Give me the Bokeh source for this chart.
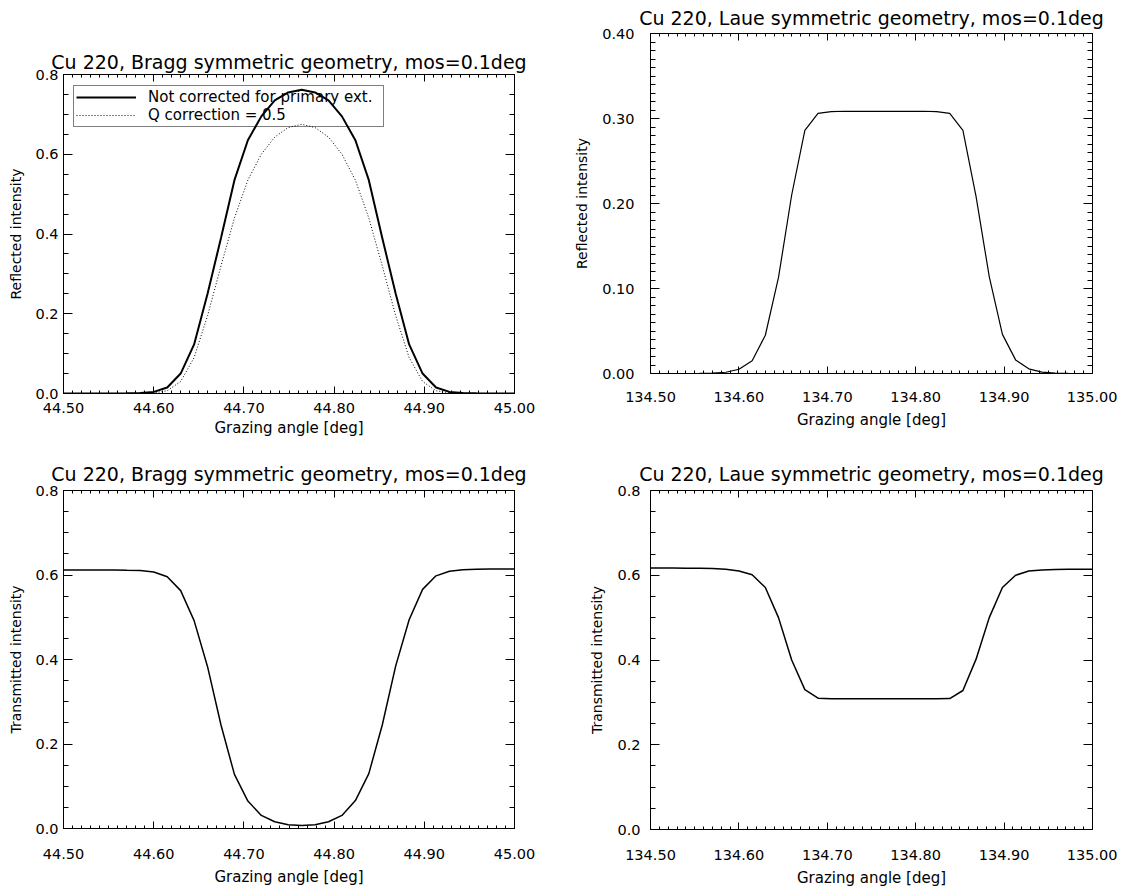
import numpy as np
from bokeh.plotting import figure
from bokeh.models import (Range1d, FixedTicker, NumeralTickFormatter, LinearAxis,
                          CustomJSTickFormatter, Legend)
from bokeh.layouts import row, column
from bokeh.embed import file_html
from bokeh.resources import INLINE

# ---------------- data ----------------
bragg_x = [44.4958, 44.5107, 44.5256, 44.5405, 44.5554, 44.5703, 44.5852, 44.6001,
           44.6150, 44.6299, 44.6448, 44.6597, 44.6746, 44.6895, 44.7044, 44.7193,
           44.7342, 44.7491, 44.7640, 44.7789, 44.7938, 44.8087, 44.8236, 44.8385,
           44.8534, 44.8683, 44.8832, 44.8981, 44.9130, 44.9279, 44.9428, 44.9577,
           44.9726, 44.9875, 45.0024]
laue_x = [134.4958, 134.5107, 134.5256, 134.5405, 134.5554, 134.5703, 134.5852, 134.6001,
          134.6150, 134.6299, 134.6448, 134.6597, 134.6746, 134.6895, 134.7044, 134.7193,
          134.7342, 134.7491, 134.7640, 134.7789, 134.7938, 134.8087, 134.8236, 134.8385,
          134.8534, 134.8683, 134.8832, 134.8981, 134.9130, 134.9279, 134.9428, 134.9577,
          134.9726, 134.9875, 135.0024]

bragg_refl = [0.0, 0.0, 0.0, 0.0, 0.0001, 0.0004, 0.0012, 0.004,
              0.015, 0.050, 0.123, 0.250, 0.390, 0.535, 0.635, 0.695,
              0.735, 0.755, 0.762, 0.755, 0.735, 0.695, 0.635, 0.535,
              0.390, 0.250, 0.123, 0.050, 0.015, 0.004, 0.0012, 0.0004,
              0.0001, 0.0, 0.0]
bragg_refl_q = [0.0, 0.0, 0.0, 0.0, 0.0, 0.0001, 0.0003, 0.0015,
                0.007, 0.030, 0.090, 0.195, 0.320, 0.440, 0.535, 0.600,
                0.643, 0.667, 0.675, 0.667, 0.643, 0.600, 0.535, 0.440,
                0.320, 0.195, 0.090, 0.030, 0.007, 0.0015, 0.0003, 0.0001,
                0.0, 0.0, 0.0]
bragg_trans = [0.612, 0.612, 0.612, 0.612, 0.6118, 0.611, 0.6105, 0.607,
               0.596, 0.563, 0.492, 0.383, 0.245, 0.128, 0.065, 0.031,
               0.016, 0.009, 0.007, 0.009, 0.016, 0.031, 0.066, 0.130,
               0.245, 0.385, 0.494, 0.566, 0.598, 0.609, 0.6125, 0.6135,
               0.614, 0.614, 0.614]
laue_refl = [0.0, 0.0, 0.0, 0.0, 0.0001, 0.0005, 0.0015, 0.005,
             0.015, 0.045, 0.113, 0.210, 0.286, 0.306, 0.308, 0.3085,
             0.3085, 0.3085, 0.3085, 0.3085, 0.3085, 0.3085, 0.308, 0.306,
             0.286, 0.208, 0.114, 0.046, 0.016, 0.0055, 0.0016, 0.0005,
             0.0001, 0.0, 0.0]
laue_trans = [0.617, 0.617, 0.617, 0.6168, 0.6165, 0.616, 0.614, 0.610,
              0.601, 0.571, 0.500, 0.400, 0.330, 0.310, 0.3085, 0.3083,
              0.3083, 0.3083, 0.3083, 0.3083, 0.3083, 0.3083, 0.3083, 0.309,
              0.328, 0.402, 0.500, 0.571, 0.600, 0.610, 0.6125, 0.6135,
              0.614, 0.614, 0.614]

bragg_xticks = [44.50, 44.60, 44.70, 44.80, 44.90, 45.00]
laue_xticks = [134.50, 134.60, 134.70, 134.80, 134.90, 135.00]
y08_ticks = [0.0, 0.2, 0.4, 0.6, 0.8]
y04_ticks = [0.00, 0.10, 0.20, 0.30, 0.40]

titles = ["Cu 220, Bragg symmetric geometry, mos=0.1deg",
          "Cu 220, Laue symmetric geometry, mos=0.1deg"]
xlabel = "Grazing angle [deg]"
legend_labels = ["Not corrected for primary ext.", "Q correction = 0.5"]

FONT = "DejaVu Sans"


def minor(ticks, step):
    n = int(round((ticks[-1] - ticks[0]) / step))
    return [round(ticks[0] + i * step, 4) for i in range(n + 1)]


def style_axis(ax, major_in, minor_in, size="14.5px", standoff=6):
    ax.major_tick_in = major_in
    ax.major_tick_out = 0
    ax.minor_tick_in = minor_in
    ax.minor_tick_out = 0
    ax.axis_line_color = "black"
    ax.major_tick_line_color = "black"
    ax.minor_tick_line_color = "black"
    ax.major_label_text_color = "black"
    ax.major_label_text_font = FONT
    ax.major_label_text_font_size = size
    ax.major_label_standoff = standoff
    ax.axis_label_text_font = FONT
    ax.axis_label_text_font_style = "normal"
    ax.axis_label_text_color = "black"


def make_fig(width, height, borders, xr, yr, xticks, yticks, ymin_step, yfmt,
             title, ylabel, x_standoff, y_standoff, title_standoff,
             xlabel_standoff, ylabel_standoff):
    p = figure(width=width, height=height, output_backend="svg", toolbar_location=None,
               x_range=Range1d(*xr), y_range=Range1d(*yr))
    p.min_border_left, p.min_border_right, p.min_border_top, p.min_border_bottom = borders
    p.outline_line_color = "black"
    p.outline_line_width = 1
    p.xgrid.grid_line_color = None
    p.ygrid.grid_line_color = None
    p.background_fill_color = "white"
    p.border_fill_color = "white"

    xt = FixedTicker(ticks=xticks, minor_ticks=minor(xticks, 0.01))
    yt = FixedTicker(ticks=yticks, minor_ticks=minor(yticks, ymin_step))

    xa = p.xaxis[0]
    xa.ticker = xt
    xa.formatter = NumeralTickFormatter(format="0.00")
    xa.axis_label = xlabel
    style_axis(xa, 7, 3, standoff=x_standoff)
    xa.axis_label_text_font_size = "15px"
    xa.axis_label_standoff = xlabel_standoff

    ya = p.yaxis[0]
    ya.ticker = yt
    ya.formatter = NumeralTickFormatter(format=yfmt)
    ya.axis_label = ylabel
    style_axis(ya, 9, 5, standoff=y_standoff)
    ya.axis_label_text_font_size = "14px"
    ya.axis_label_standoff = ylabel_standoff

    empty = CustomJSTickFormatter(code="return ''")
    top = LinearAxis(ticker=xt, formatter=empty)
    style_axis(top, 7, 3, size="0px", standoff=0)
    right = LinearAxis(ticker=yt, formatter=empty)
    style_axis(right, 9, 5, size="0px", standoff=0)
    p.add_layout(top, "above")
    p.add_layout(right, "right")

    p.title.text = title
    p.title.text_font = FONT
    p.title.text_font_size = "19px"
    p.title.text_font_style = "normal"
    p.title.text_color = "black"
    p.title.align = "center"
    p.title.standoff = title_standoff
    return p


# Top-left: Bragg reflected
tl = make_fig(570, 440, (63, 56, 74, 47), (44.5, 45.0), (0.0, 0.8), bragg_xticks, y08_ticks,
              0.05, "0.0", titles[0], "Reflected intensity", 9, 5, 3, 3, 8)
r1 = tl.line(bragg_x, bragg_refl, line_color="black", line_width=2)
r2 = tl.line(bragg_x, bragg_refl_q, line_color="black", line_width=1, line_dash="1 2")
leg = Legend(items=[(legend_labels[0], [r1]), (legend_labels[1], [r2])],
             location=(10, 266))
leg.border_line_color = "black"
leg.border_line_width = 1
leg.background_fill_alpha = 0
leg.label_text_font = FONT
leg.label_text_font_size = "15px"
leg.label_text_color = "black"
leg.glyph_width = 60
leg.glyph_height = 12
leg.label_height = 12
leg.label_width = 233
leg.label_standoff = 12
leg.padding = 2
leg.spacing = 0
leg.margin = 0
tl.add_layout(leg)

# Bottom-left: Bragg transmitted
bl = make_fig(570, 449, (63, 56, 50, 61), (44.5, 45.0), (0.0, 0.8), bragg_xticks, y08_ticks,
              0.05, "0.0", titles[0], "Transmitted intensity", 20, 5, 11, 6, 8)
bl.line(bragg_x, bragg_trans, line_color="black", line_width=1.5)

# Top-right: Laue reflected
tr = make_fig(547, 440, (80, 25, 32, 67), (134.5, 135.0), (0.0, 0.4), laue_xticks, y04_ticks,
              0.01, "0.00", titles[1], "Reflected intensity", 18, 16, 9, 6, 9)
tr.line(laue_x, laue_refl, line_color="black", line_width=1.2)

# Bottom-right: Laue transmitted
br = make_fig(547, 449, (80, 25, 50, 60), (134.5, 135.0), (0.0, 0.8), laue_xticks, y08_ticks,
              0.05, "0.0", titles[1], "Transmitted intensity", 20, 10, 11, 6, 9)
br.line(laue_x, laue_trans, line_color="black", line_width=1.5)

layout = row(column(tl, bl), column(tr, br))
open("out.html", "w").write(file_html(layout, INLINE))
